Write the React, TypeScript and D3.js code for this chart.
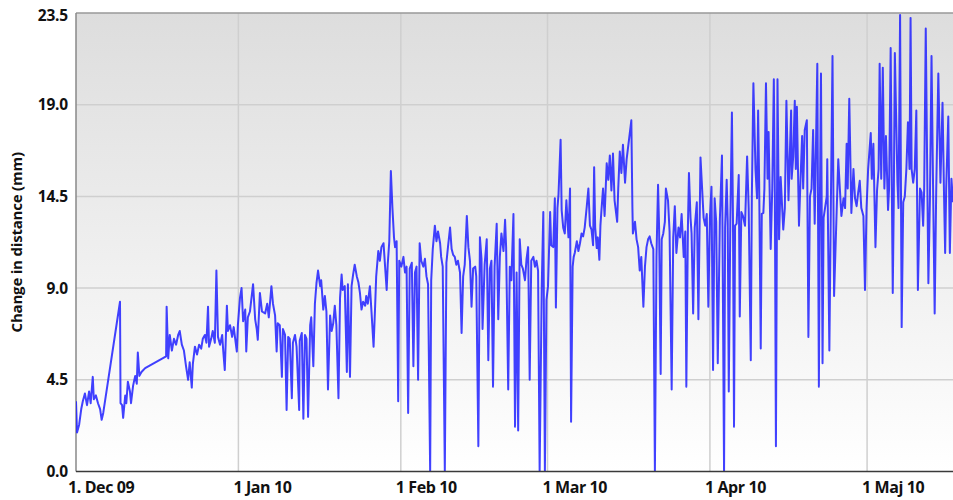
import * as d3 from "d3"

// [days since 1 Dec 2009, change in distance (mm)]
const decPoints: [number, number][] = [
  [0.0, 3.6], [0.2, 2.0], [0.6, 2.4], [1.0, 3.2], [1.3, 3.6], [1.7, 4.0], [2.1, 3.4], [2.5, 4.1],
  [2.8, 3.5], [3.2, 4.85], [3.4, 3.7], [3.8, 3.9], [4.2, 3.5], [4.6, 3.2], [4.9, 2.65], [5.2, 3.0],
  [8.4, 8.7], [8.5, 3.5], [8.8, 3.4], [9.0, 2.75], [9.4, 3.9], [9.6, 3.5], [9.9, 4.6], [10.3, 4.1],
  [10.5, 3.5], [10.9, 4.4], [11.3, 4.9], [11.6, 4.5], [11.8, 6.1], [12.1, 4.9], [12.5, 5.1], [13.2, 5.3],
  [17.2, 5.9], [17.3, 8.45], [17.6, 5.8], [17.9, 7.0], [18.3, 6.2], [18.7, 6.8], [19.1, 6.5], [19.5, 7.0],
  [19.8, 7.2], [20.2, 6.5], [20.6, 6.2], [21.0, 5.4], [21.4, 4.7], [21.7, 5.6], [22.1, 4.3], [22.3, 5.5],
  [22.7, 6.4], [23.1, 6.0], [23.5, 6.5], [23.9, 6.3], [24.2, 6.8], [24.6, 7.0], [24.9, 6.6], [25.2, 8.45],
  [25.4, 6.4], [25.8, 6.8], [26.1, 7.2], [26.5, 6.6], [26.8, 10.3], [27.1, 6.9], [27.5, 6.5], [27.9, 7.0],
  [28.1, 6.2], [28.4, 5.2], [28.8, 8.5], [29.0, 7.2], [29.4, 7.5], [29.8, 6.9], [30.1, 7.4], [30.7, 6.15],
  [30.9, 7.5],
]

const janPoints: [number, number][] = [
  [31.3, 8.9], [31.6, 9.4], [31.9, 7.7], [32.3, 8.3], [32.5, 6.15], [32.8, 7.9], [33.2, 8.2], [33.8, 9.6],
  [34.2, 7.8], [34.5, 7.3], [34.7, 6.75], [35.1, 9.15], [35.5, 8.2], [36.1, 8.1], [36.5, 8.6], [36.8, 7.9],
  [37.3, 9.5], [37.6, 8.6], [38.0, 8.0], [38.3, 6.15], [38.5, 7.6], [38.9, 7.5], [39.3, 4.85], [39.5, 7.3],
  [39.9, 7.0], [40.2, 3.15], [40.5, 6.9], [40.8, 6.8], [41.2, 3.75], [41.4, 6.6], [41.8, 7.0], [42.1, 6.4],
  [42.6, 3.15], [42.7, 6.7], [43.1, 7.1], [43.4, 2.7], [43.7, 7.0], [44.0, 6.8], [44.3, 2.8], [44.7, 7.5],
  [44.9, 7.9], [45.3, 5.4], [45.6, 8.6], [45.9, 9.65], [46.2, 10.3], [46.6, 9.5], [46.8, 9.8], [47.2, 8.3],
  [47.5, 9.0], [47.8, 8.2], [48.1, 4.2], [48.5, 8.0], [48.8, 7.2], [49.1, 7.6], [49.4, 8.5], [49.7, 7.5],
  [50.1, 3.75], [50.4, 8.9], [50.7, 10.1], [50.9, 9.3], [51.3, 9.5], [51.7, 5.1], [51.9, 9.6], [52.3, 4.85],
  [52.6, 9.5], [52.9, 10.1], [53.2, 10.6], [53.6, 10.0], [53.9, 9.7], [54.2, 9.15], [54.5, 8.3], [54.8, 8.7],
  [55.2, 8.5], [55.4, 9.0], [55.7, 8.6], [56.1, 9.5], [56.4, 8.2], [56.8, 6.4], [57.1, 8.5], [57.3, 10.0],
  [57.7, 11.3], [58.0, 10.8], [58.3, 11.5], [58.7, 11.7], [59.0, 10.5], [59.3, 9.3], [59.5, 10.6], [59.8, 11.8],
  [60.1, 15.4], [60.4, 13.5], [60.7, 12.0], [60.9, 11.5], [61.2, 11.8], [61.5, 3.6], [61.7, 10.8],
]

const febPoints: [number, number][] = [
  [62.1, 10.5], [62.5, 11.0], [62.8, 10.2], [63.1, 10.5], [63.4, 3.0], [63.7, 10.4], [64.1, 10.7], [64.4, 5.4],
  [64.7, 10.2], [65.0, 10.5], [65.3, 4.7], [65.6, 11.7], [65.9, 10.8], [66.3, 10.5], [66.6, 10.9], [66.9, 10.0],
  [67.2, 9.6], [67.6, 0.0], [67.8, 9.8], [68.1, 11.4], [68.5, 12.6], [68.8, 11.8], [69.1, 12.3], [69.5, 11.7],
  [69.7, 11.0], [70.0, 10.5], [70.4, 0.0], [70.7, 10.7], [71.0, 11.5], [71.4, 12.5], [71.7, 11.4], [72.0, 11.1],
  [72.3, 11.0], [72.6, 10.6], [72.9, 10.8], [73.3, 10.2], [73.6, 7.1], [73.9, 10.0], [74.2, 10.6], [74.6, 13.1],
  [74.9, 11.5], [75.2, 10.8], [75.5, 8.45], [75.8, 10.4], [76.2, 10.5], [76.4, 10.0], [76.8, 1.3], [77.1, 12.0],
  [77.4, 10.9], [77.6, 7.3], [78.0, 10.6], [78.4, 11.9], [78.7, 5.7], [79.0, 10.4], [79.3, 10.8], [79.6, 4.35],
  [79.9, 10.5], [80.3, 12.7], [80.6, 7.8], [80.9, 11.0], [81.2, 12.2], [81.6, 11.3], [81.9, 12.9], [82.1, 11.5],
  [82.5, 4.2], [82.8, 10.5], [83.1, 9.8], [83.5, 13.2], [83.8, 2.3], [84.1, 10.2], [84.4, 2.1], [84.7, 11.9],
  [85.0, 10.6], [85.3, 10.4], [85.7, 9.8], [86.0, 10.9], [86.3, 11.5], [86.6, 4.7], [86.9, 10.8], [87.3, 11.0],
  [87.6, 10.5], [87.9, 10.8], [88.2, 10.3], [88.5, 0.0], [88.9, 9.5], [89.2, 13.3], [89.5, 0.0], [89.8, 8.8],
]

const marPoints: [number, number][] = [
  [90.1, 9.5], [90.5, 13.3], [90.7, 11.6], [91.1, 11.5], [91.4, 14.0], [91.6, 8.4], [91.9, 13.5], [92.1, 14.2],
  [92.5, 17.0], [92.7, 13.4], [93.0, 12.5], [93.3, 12.2], [93.6, 13.9], [94.0, 12.0], [94.3, 14.5], [94.5, 2.55],
  [94.8, 10.5], [95.0, 11.0], [95.2, 11.2], [95.6, 11.8], [95.9, 11.3], [96.2, 11.7], [96.5, 12.2], [96.8, 12.05],
  [97.1, 12.5], [97.5, 13.6], [97.8, 14.5], [98.1, 12.6], [98.4, 12.4], [98.7, 11.6], [98.9, 15.6], [99.1, 12.5],
  [99.4, 11.45], [99.6, 12.0], [99.9, 10.85], [100.1, 12.6], [100.3, 13.4], [100.6, 14.5], [100.9, 13.1], [101.3, 15.8],
  [101.6, 14.95], [101.9, 16.2], [102.2, 14.4], [102.5, 16.3], [102.8, 13.9], [103.3, 12.8], [103.5, 14.5], [103.8, 16.4],
  [104.1, 15.3], [104.4, 16.75], [104.8, 14.8], [105.1, 16.0], [106.0, 18.0], [106.2, 13.6], [106.3, 12.2], [106.7, 12.8],
  [107.0, 11.9], [107.3, 11.5], [107.6, 10.3], [107.9, 11.0], [108.3, 8.45], [108.6, 10.5], [108.9, 11.5], [109.2, 11.9],
  [109.5, 12.05], [109.8, 11.7], [110.2, 11.4], [110.5, 0.0], [110.8, 11.0], [111.1, 14.7], [111.3, 12.5], [111.6, 5.0],
  [111.8, 11.9], [112.1, 12.2], [112.4, 12.8], [112.6, 14.5], [113.0, 13.9], [113.3, 12.3], [113.7, 4.2], [114.0, 12.0],
  [114.3, 13.6], [114.6, 11.2], [115.0, 12.5], [115.3, 12.0], [115.6, 13.2], [116.0, 11.0], [116.3, 12.3], [116.5, 4.35],
  [116.8, 12.5], [117.0, 15.3], [117.3, 13.0], [117.5, 12.2], [117.8, 8.1], [118.1, 12.5], [118.5, 13.8], [118.8, 7.8],
  [119.2, 16.1], [119.8, 13.0], [120.1, 12.6], [120.4, 13.2], [120.7, 8.45], [121.0, 13.0],
]

const aprPoints: [number, number][] = [
  [121.3, 14.6], [121.6, 5.2], [121.9, 14.0], [122.2, 12.8], [122.5, 5.55], [122.9, 12.9], [123.3, 16.2], [123.4, 12.5],
  [123.7, 0.0], [123.9, 12.5], [124.2, 14.95], [124.4, 12.8], [124.6, 4.1], [124.9, 12.9], [125.2, 18.4], [125.4, 13.0],
  [125.6, 2.3], [125.8, 12.6], [126.1, 12.7], [126.5, 15.2], [126.7, 7.95], [127.0, 13.3], [127.3, 13.1], [127.7, 12.6],
  [128.1, 16.15], [128.4, 13.5], [128.8, 5.7], [129.0, 14.0], [129.3, 19.9], [129.7, 15.5], [130.0, 14.0], [130.2, 18.5],
  [130.4, 14.8], [130.7, 6.3], [130.9, 13.2], [131.2, 13.25], [131.4, 14.5], [131.7, 19.9], [132.0, 15.0], [132.2, 17.4],
  [132.6, 11.4], [132.9, 14.5], [133.2, 20.1], [133.4, 14.0], [133.6, 1.3], [133.8, 13.5], [133.9, 20.1], [134.2, 11.9],
  [134.5, 15.1], [135.0, 12.4], [135.3, 13.5], [135.6, 19.0], [136.0, 13.9], [136.5, 18.5], [136.6, 15.0], [136.9, 16.15],
  [137.2, 19.0], [137.4, 15.5], [137.6, 18.7], [138.0, 12.6], [138.3, 15.0], [138.6, 17.2], [138.8, 14.5], [139.1, 17.5],
  [139.5, 18.0], [139.8, 6.9], [140.1, 14.1], [140.4, 14.5], [140.7, 17.5], [141.0, 12.7], [141.5, 20.9], [141.8, 4.35],
  [142.0, 14.0], [142.2, 20.4], [142.5, 5.55], [142.7, 13.0], [143.3, 14.1], [143.4, 16.0], [143.8, 6.2], [144.1, 14.0],
  [144.4, 21.3], [144.7, 9.0], [145.2, 13.4], [145.5, 16.0], [145.8, 14.5], [146.1, 13.1], [146.5, 14.0], [146.8, 13.5],
  [147.1, 16.8], [147.3, 14.5], [147.6, 19.1], [148.0, 13.25], [148.4, 15.5], [148.7, 14.0], [149.0, 13.6], [149.3, 14.3],
  [149.6, 14.9], [149.9, 13.5], [150.3, 13.1], [150.6, 9.3], [150.9, 13.5],
]

const mayPoints: [number, number][] = [
  [151.2, 15.5], [151.7, 17.35], [151.9, 15.0], [152.2, 16.8], [152.6, 11.5], [152.9, 14.4], [153.2, 15.5], [153.4, 20.9],
  [153.7, 15.0], [154.0, 20.7], [154.3, 14.5], [154.6, 17.2], [155.0, 13.4], [155.2, 14.5], [155.5, 21.7], [155.9, 9.15],
  [156.1, 14.0], [156.3, 21.45], [156.8, 14.8], [157.0, 13.5], [157.3, 23.4], [157.6, 7.4], [157.9, 13.8], [158.2, 14.1],
  [158.5, 15.5], [158.8, 17.9], [159.1, 15.5], [159.3, 23.25], [159.5, 15.5], [159.8, 14.8], [160.1, 15.5], [160.4, 18.5],
  [160.7, 9.3], [161.1, 14.5], [161.4, 14.3], [161.7, 12.6], [161.9, 14.5], [162.2, 22.7], [162.7, 9.65], [163.0, 14.0],
  [163.3, 21.3], [163.6, 14.5], [163.9, 8.1], [164.2, 14.5], [164.6, 20.4], [165.0, 14.8], [165.4, 18.9], [165.7, 14.0],
  [165.9, 11.2], [166.1, 14.5], [166.5, 18.2], [166.8, 11.2], [167.1, 15.0], [167.4, 13.8],
]

const yTickValues = [0, 4.7, 9.4, 14.1, 18.8, 23.5]
const yTickLabels = ["0.0", "4.5", "9.0", "14.5", "19.0", "23.5"]
const monthTicks = ["2009-12-01", "2010-01-01", "2010-02-01", "2010-03-01", "2010-04-01", "2010-05-01"]
const monthLabels = ["1. Dec 09", "1 Jan 10", "1 Feb 10", "1 Mar 10", "1 Apr 10", "1 Maj 10"]

const START = Date.UTC(2009, 11, 1)
const END_DAY = 167.4
const toDate = (d: number) => new Date(START + d * 864e5)

const App = () => {
  const width = 953
  const height = 500
  const margin = { top: 13, right: 0, bottom: 28.5, left: 76 }
  const innerBottom = height - margin.bottom

  const points = [...decPoints, ...janPoints, ...febPoints, ...marPoints, ...aprPoints, ...mayPoints]

  const x = d3
    .scaleUtc()
    .domain([toDate(0), toDate(END_DAY)])
    .range([margin.left, width - margin.right])

  const y = d3.scaleLinear().domain([0, 23.5]).range([innerBottom, margin.top])

  const line = d3
    .line<[number, number]>()
    .x((d) => x(toDate(d[0])))
    .y((d) => y(d[1]))

  const font = "'Open Sans', 'DejaVu Sans', sans-serif"

  return (
    <svg
      width={width}
      height={height}
      style={{ position: "absolute", left: 0, top: 0, background: "#fff" }}
    >
      <defs>
        <linearGradient id="bg" x1="0" y1="0" x2="0" y2="1">
          <stop offset="0%" stopColor="#dddddd" />
          <stop offset="100%" stopColor="#ffffff" />
        </linearGradient>
        <clipPath id="plot">
          <rect x={margin.left} y={margin.top - 2} width={width - margin.left} height={innerBottom - margin.top + 2} />
        </clipPath>
      </defs>

      <rect
        x={margin.left}
        y={margin.top}
        width={width - margin.left - margin.right}
        height={innerBottom - margin.top}
        fill="url(#bg)"
      />

      {/* gridlines */}
      {yTickValues.slice(1, -1).map((v) => (
        <line key={v} x1={margin.left} x2={width} y1={y(v)} y2={y(v)} stroke="#cfcfcf" strokeWidth={1.5} />
      ))}
      {monthTicks.slice(1).map((m) => (
        <line
          key={m}
          x1={x(new Date(m))}
          x2={x(new Date(m))}
          y1={margin.top}
          y2={innerBottom}
          stroke="#cfcfcf"
          strokeWidth={1.5}
        />
      ))}

      {/* frame */}
      <line x1={margin.left} x2={width} y1={margin.top} y2={margin.top} stroke="#999" strokeWidth={1.5} />
      <line x1={margin.left} x2={margin.left} y1={margin.top} y2={innerBottom} stroke="#888" strokeWidth={1.5} />

      <path
        d={line(points) ?? ""}
        fill="none"
        stroke="#2020ff"
        strokeOpacity={0.85}
        strokeWidth={2}
        strokeLinejoin="round"
        clipPath="url(#plot)"
      />

      <line x1={margin.left} x2={width} y1={innerBottom} y2={innerBottom} stroke="#3a3a3a" strokeWidth={1.5} />

      {/* y tick labels */}
      {yTickValues.map((v, i) => (
        <text
          key={v}
          x={68}
          y={Math.max(y(v) + 5.5, 21)}
          textAnchor="end"
          fontFamily={font}
          fontWeight={700}
          fontSize={15.5}
          letterSpacing={-0.2}
          fill="#111"
        >
          {yTickLabels[i]}
        </text>
      ))}

      {/* x tick labels */}
      {monthTicks.map((m, i) => (
        <text
          key={m}
          x={x(new Date(m)) - (i === 0 ? 8 : 5)}
          y={493}
          textAnchor="start"
          fontFamily={font}
          fontWeight={700}
          fontSize={16}
          letterSpacing={-0.4}
          fill="#111"
        >
          {monthLabels[i]}
        </text>
      ))}

      <text
        transform={`translate(22,${(margin.top + innerBottom) / 2}) rotate(-90)`}
        textAnchor="middle"
        fontFamily={font}
        fontWeight={700}
        fontSize={15}
        letterSpacing={-0.2}
        fill="#111"
      >
        Change in distance (mm)
      </text>
    </svg>
  )
}

export default App
